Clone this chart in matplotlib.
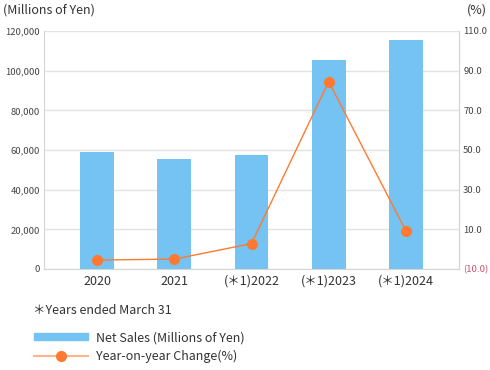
import matplotlib.pyplot as plt
from matplotlib.lines import Line2D
from matplotlib.patches import Patch

plt.rcParams['font.family'] = ['Noto Sans CJK JP', 'DejaVu Sans']

years = ['2020', '2021', '(＊1)2022', '(＊1)2023', '(＊1)2024']
net_sales = [59000, 55300, 57400, 105600, 115700]
yoy_change = [-5.5, -5.0, 2.8, 84.5, 9.4]

left_ticks = [0, 20000, 40000, 60000, 80000, 100000, 120000]
right_ticks = [-10, 10, 30, 50, 70, 90, 110]
right_labels = ['(10.0)', '10.0', '30.0', '50.0', '70.0', '90.0', '110.0']

bar_color = '#74c3f2'
line_color = '#ff7a30'
grid_color = '#e3e3e3'
text_color = '#333333'

fig = plt.figure(figsize=(4.9, 3.7), dpi=100)
ax = fig.add_axes([44/490, 1-269/370, (459-44)/490, (269-31)/370])
x = range(len(years))
ax.bar(x, net_sales, width=0.44, color=bar_color, zorder=2)
ax.set_xlim(-0.69, 4.69)
ax.set_ylim(0, 120000)
ax.set_yticks(left_ticks)
ax.set_yticklabels([f'{v:,}' for v in left_ticks])
ax.set_xticks(list(x))
ax.set_xticklabels(years, fontsize=9, color=text_color)
ax.tick_params(axis='y', labelsize=6.8, colors='#444444', length=0, pad=3)
ax.tick_params(axis='x', length=0, pad=4)
ax.grid(axis='y', color=grid_color, linewidth=1, zorder=0)
ax.spines['top'].set_visible(False)
for s in ['left', 'right', 'bottom']:
    ax.spines[s].set_color('#d5d5d5')

ax2 = ax.twinx()
ax2.plot(x, yoy_change, color=line_color, linewidth=1, marker='o', markersize=7, zorder=3)
ax2.set_ylim(-10, 110)
ax2.set_yticks(right_ticks)
ax2.set_yticklabels(right_labels)
ax2.tick_params(axis='y', labelsize=6.8, colors='#444444', length=0, pad=3)
ax2.get_yticklabels()[0].set_color('#d0506a')
for s in ['top', 'left', 'bottom']:
    ax2.spines[s].set_visible(False)
ax2.spines['right'].set_color('#d5d5d5')

fig.text(3/490, 1-10/370, '(Millions of Yen)', fontsize=9, color=text_color, va='center')
fig.text(487/490, 1-10/370, '(%)', fontsize=9, color=text_color, va='center', ha='right')
fig.text(33/490, 1-310/370, '＊Years ended March 31', fontsize=9, color=text_color, va='center')

handles = [Patch(color=bar_color),
           Line2D([], [], color='#ffb58a', linewidth=1.5, marker='o', markersize=7,
                  markerfacecolor=line_color, markeredgecolor=line_color)]
ax.legend(handles, ['Net Sales (Millions of Yen)', 'Year-on-year Change(%)'],
          loc='upper left', bbox_to_anchor=(23/490, 1-320/370), bbox_transform=fig.transFigure,
          frameon=False, fontsize=9, handlelength=4.3, handleheight=0.5,
          labelspacing=0.45, handletextpad=0.6, labelcolor=text_color)

fig.savefig('out.png', dpi=100)
